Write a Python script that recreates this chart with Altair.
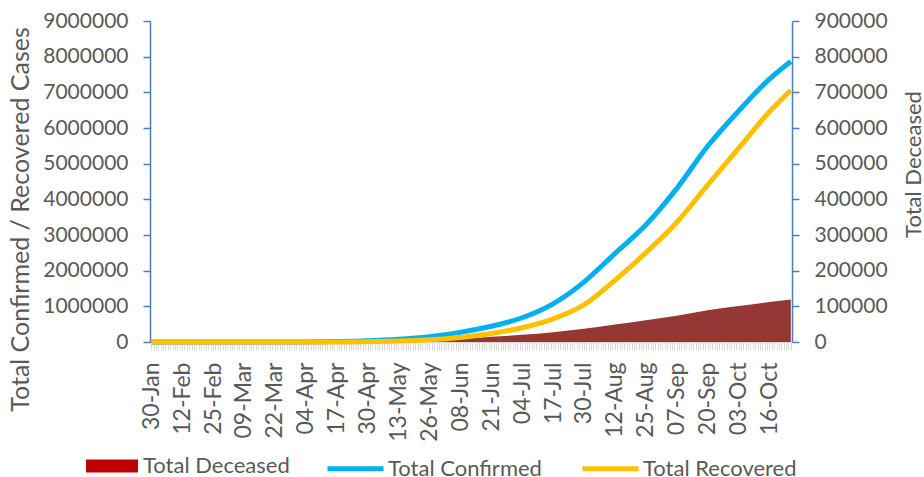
import altair as alt
import pandas as pd

# Cumulative COVID-19 counts, sampled every 13 days (last point 25-Oct)
dates = ["2020-01-30", "2020-02-12", "2020-02-25", "2020-03-09", "2020-03-22",
         "2020-04-04", "2020-04-17", "2020-04-30", "2020-05-13", "2020-05-26",
         "2020-06-08", "2020-06-21", "2020-07-04", "2020-07-17", "2020-07-30",
         "2020-08-12", "2020-08-25", "2020-09-07", "2020-09-20", "2020-10-03",
         "2020-10-16", "2020-10-25"]
confirmed = [1, 3, 3, 43, 396, 3072, 13387, 34863, 78003, 150793,
             270000, 440000, 680000, 1070000, 1680000, 2480000, 3280000,
             4300000, 5487580, 6473544, 7370468, 7864811]
recovered = [0, 0, 3, 3, 24, 229, 1749, 9068, 26235, 64277,
             129095, 240000, 400000, 650000, 1040000, 1730000, 2500000,
             3350000, 4400000, 5427706, 6453779, 7059435]
deceased = [0, 0, 0, 0, 7, 75, 437, 1152, 2549, 4337,
            7800, 14500, 20000, 27500, 37000, 49000, 61000,
            73500, 89000, 100842, 112161, 119500]

FONT = "Lato"
TXT = "#595959"
AXIS_BLUE = "#4A7EBB"
N_DAYS = 270

start = pd.Timestamp(dates[0])
day = [(pd.Timestamp(d) - start).days for d in dates]

wide = pd.DataFrame({"day": day, "Total Confirmed": confirmed,
                     "Total Recovered": recovered, "Total Deceased": deceased})
long = wide.melt(id_vars="day", value_vars=["Total Confirmed", "Total Recovered"],
                 var_name="series", value_name="cases")
dec = wide[["day", "Total Deceased"]].rename(columns={"Total Deceased": "deaths"})
dec["series"] = "Total Deceased"

x_scale = alt.Scale(domain=[-0.5, N_DAYS - 0.5], nice=False, zero=False)
x_axis = alt.Axis(
    values=list(range(N_DAYS)),
    labelExpr="datum.value % 13 == 0 ? timeFormat(datetime(2020, 0, 30 + datum.value), '%d-%b') : ''",
    labelAngle=-90, labelAlign="right", labelBaseline="middle",
    labelOverlap=False, labelBound=False, labelPadding=12,
    labelFont=FONT, labelFontSize=23, labelColor=TXT,
    tickColor="#D9D9D9", tickSize=8, tickWidth=1,
    domainColor="#D9D9D9", grid=False, title=None,
)

area = alt.Chart(dec).mark_area(color="#953735", interpolate="monotone").encode(
    x=alt.X("day:Q", scale=x_scale, axis=x_axis),
    y=alt.Y("deaths:Q",
            scale=alt.Scale(domain=[0, 900000], nice=False),
            axis=alt.Axis(orient="right", values=list(range(0, 900001, 100000)),
                          format="d", grid=False,
                          labelFont=FONT, labelFontSize=21, labelColor=TXT,
                          labelPadding=15, tickSize=7, tickColor=AXIS_BLUE,
                          domainColor=AXIS_BLUE, domainWidth=1.5, tickWidth=1.5,
                          title="Total Deceased", titleFont=FONT, titleFontSize=22,
                          titleFontWeight="normal", titleColor=TXT,
                          titleAngle=270, titleAlign="center", titleBaseline="middle",
                          titleX=121, titleY=143)),
)

# Swatch for the deceased series in the legend
dec_key = alt.Chart(dec).mark_point(filled=True).encode(
    fill=alt.Fill("series:N",
                  scale=alt.Scale(domain=["Total Deceased"], range=["#C00000"]),
                  legend=alt.Legend(orient="none", legendX=-64, legendY=419,
                                    title=None, padding=0,
                                    symbolType="M-1,-0.25H1V0.25H-1Z",
                                    symbolSize=2704, symbolStrokeWidth=0,
                                    symbolOpacity=1,
                                    labelFont=FONT, labelFontSize=22,
                                    labelColor=TXT, labelOffset=5,
                                    labelLimit=300)),
).transform_filter("false")

lines = alt.Chart(long).mark_line(strokeWidth=5, interpolate="monotone").encode(
    x=alt.X("day:Q", scale=x_scale, axis=x_axis),
    y=alt.Y("cases:Q",
            scale=alt.Scale(domain=[0, 9000000], nice=False),
            axis=alt.Axis(orient="left", values=list(range(0, 9000001, 1000000)),
                          format="d", grid=False,
                          labelFont=FONT, labelFontSize=21, labelColor=TXT,
                          labelPadding=15, tickSize=7, tickColor=AXIS_BLUE,
                          domainColor=AXIS_BLUE, domainWidth=1.5, tickWidth=1.5,
                          title="Total Confirmed / Recovered Cases",
                          titleFont=FONT, titleFontSize=25,
                          titleFontWeight="normal", titleColor=TXT,
                          titleAngle=270, titleAlign="center", titleBaseline="middle",
                          titleX=-130, titleY=198)),
    stroke=alt.Stroke("series:N",
                      scale=alt.Scale(domain=["Total Confirmed", "Total Recovered"],
                                      range=["#00B0F0", "#FFC000"]),
                      legend=alt.Legend(orient="none", legendX=175, legendY=417,
                                        direction="horizontal", title=None,
                                        padding=0, symbolType="stroke",
                                        symbolSize=3136, symbolStrokeWidth=5,
                                        labelFont=FONT, labelFontSize=22,
                                        labelColor=TXT, labelOffset=2,
                                        columnPadding=30, labelLimit=300)),
)

chart = alt.layer(area, dec_key, lines).resolve_scale(
    y="independent", fill="independent", stroke="independent"
).properties(
    width=642, height=321,
    autosize=alt.AutoSizeParams(type="none"),
    padding={"left": 150, "top": 21, "right": 132, "bottom": 135},
).configure_view(stroke=None)

chart.save("out.html", embed_options={"renderer": "svg", "actions": False})
